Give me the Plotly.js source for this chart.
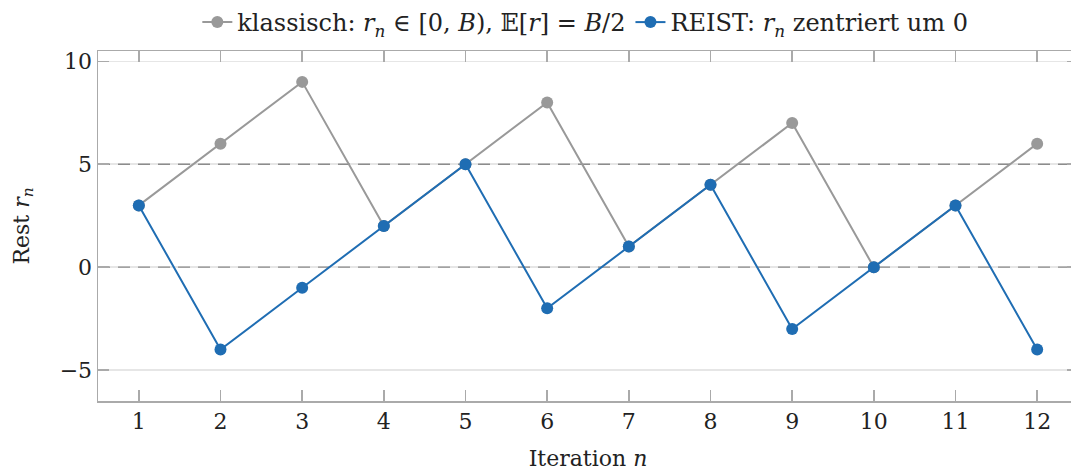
<!DOCTYPE html>
<html><head><meta charset="utf-8">
<script src="https://cdn.plot.ly/plotly-3.0.1.min.js"></script>
<style>html,body{margin:0;padding:0;overflow:hidden;background:#fff}#chart{width:1090px;height:471px}</style>
</head><body><div id="chart"></div>
<script>
const iterations = [1,2,3,4,5,6,7,8,9,10,11,12];
const klassisch = [3,6,9,2,5,8,1,4,7,0,3,6];
const reist = [3,-4,-1,2,5,-2,1,4,-3,0,3,-4];
const yTicks = [-5,0,5,10];
const dashedLevels = [0,5];
const xRange = [0.5, 12.5];

const FONT = 'DejaVu Serif';
const refLines = dashedLevels.map(v => ({x: xRange, y: [v, v], mode: 'lines', showlegend: false, hoverinfo: 'skip',
  line: {color: '#8c8c8c', width: 1.3, dash: '12px,8px'}}));
const traces = refLines.concat([
  {x: iterations, y: klassisch, mode: 'lines+markers', name: 'klassisch: <i>r</i><sub><i>n</i></sub> ∈ [0, <i>B</i>), 𝔼[<i>r</i>] = <i>B</i>/2',
   line: {color: '#999999', width: 2}, marker: {color: '#999999', size: 12}},
  {x: iterations, y: reist, mode: 'lines+markers', name: 'REIST: <i>r</i><sub><i>n</i></sub> zentriert um 0',
   line: {color: '#1f6db3', width: 2}, marker: {color: '#1f6db3', size: 12}}
]);
const layout = {
  width: 1090, height: 471,
  margin: {l: 98, r: 12, t: 51, b: 70},
  paper_bgcolor: '#fff', plot_bgcolor: '#fff',
  font: {family: FONT, size: 22, color: '#222'},
  showlegend: true,
  legend: {orientation: 'h', x: 0.537, xanchor: 'center', xref: 'container', y: 1, yanchor: 'top', yref: 'container',
    font: {family: FONT, size: 24, color: '#222'}, itemwidth: 30, tracegroupgap: 0, bgcolor: 'rgba(0,0,0,0)'},
  xaxis: {range: xRange, tickvals: iterations, ticks: 'inside', ticklen: 11, tickwidth: 1.5, tickcolor: '#aaaaaa',
    showline: true, linecolor: '#aaaaaa', linewidth: 1.5, mirror: 'ticks', showgrid: false, zeroline: false,
    title: {text: 'Iteration <i>n</i>', font: {family: FONT, size: 22, color: '#222'}, standoff: 19},
    tickfont: {family: FONT, size: 22, color: '#222'}},
  yaxis: {range: [-6.5, 10.5], tickvals: yTicks, ticks: 'inside', ticklen: 11, tickwidth: 1.5, tickcolor: '#aaaaaa',
    showline: true, linecolor: '#aaaaaa', linewidth: 1.5, mirror: 'ticks', showgrid: true, gridcolor: '#e6e6e6', gridwidth: 1.5,
    zeroline: false, title: {text: 'Rest <i>r</i><sub><i>n</i></sub>', font: {family: FONT, size: 22, color: '#222'}, standoff: 24},
    tickfont: {family: FONT, size: 22, color: '#222'}}
};
Plotly.newPlot('chart', traces, layout, {staticPlot: true, displayModeBar: false});
</script></body></html>
